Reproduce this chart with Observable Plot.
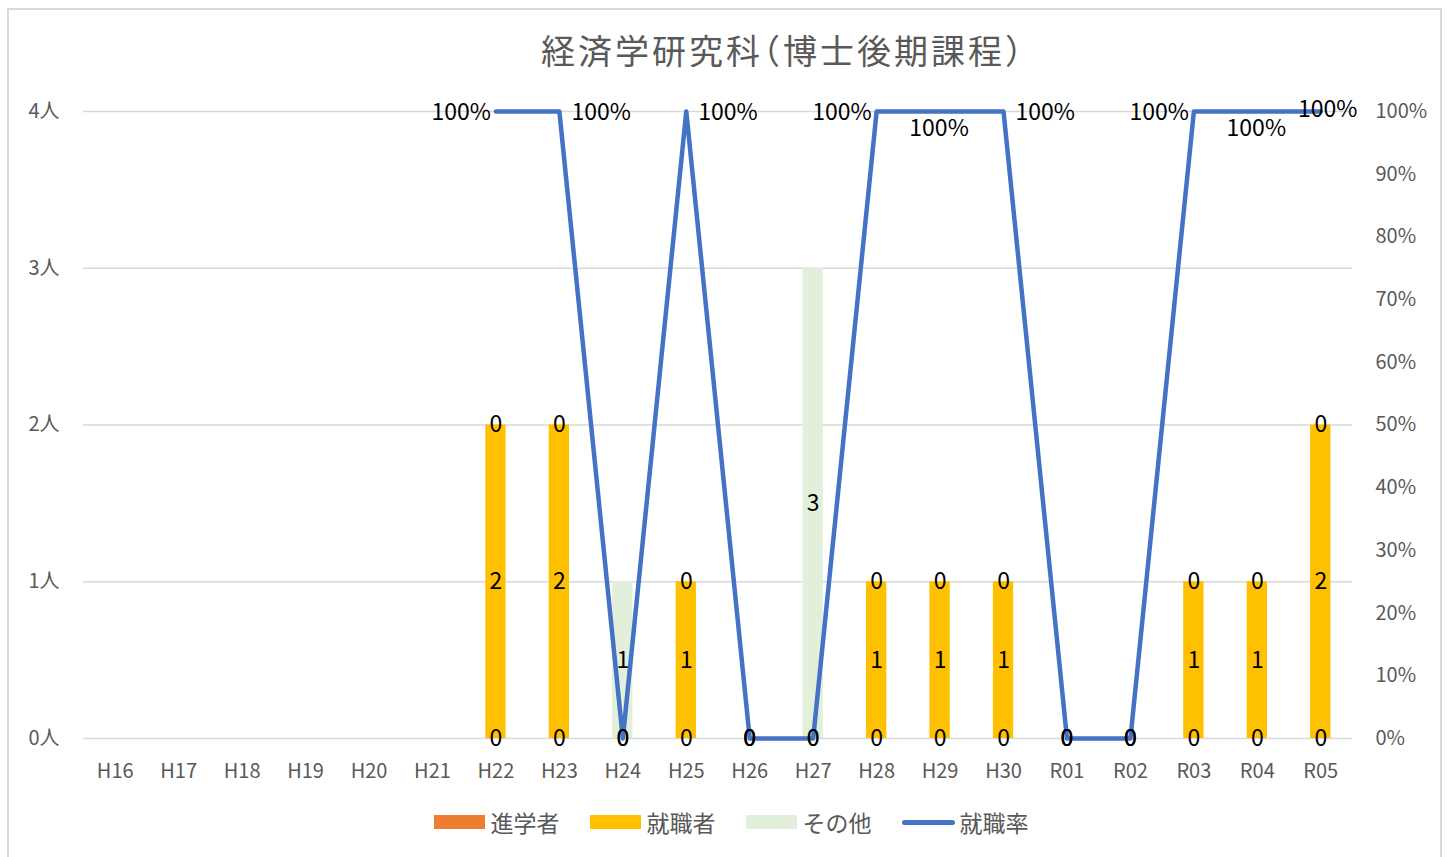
<!DOCTYPE html>
<html>
<head>
<meta charset="utf-8">
<script src="https://cdn.jsdelivr.net/npm/d3@7"></script>
<script src="https://cdn.jsdelivr.net/npm/@observablehq/plot@0.6"></script>
<style>
  html, body { margin: 0; padding: 0; background: #fff; }
  body { width: 1448px; height: 857px; overflow: hidden; position: relative;
         font-family: 'Noto Sans CJK JP', 'Noto Sans', sans-serif; }
  #frame { position: absolute; left: 7px; top: 8px; width: 1435px; height: 900px;
           border: 2px solid #d9d9d9; box-sizing: border-box; pointer-events: none; }
  #title { box-sizing: border-box; height: 88px; padding-top: 33px; padding-left: 118px;
           text-align: center; font-size: 34px; line-height: 34px; letter-spacing: 3px;
           color: #595959; font-feature-settings: "halt"; }
  #chart svg { display: block; }
  #legend { height: 67px; display: flex; justify-content: center; align-items: center;
            padding-left: 14px; padding-bottom: 3px; box-sizing: border-box;
            font-size: 23px; color: #595959; }
  .item { display: flex; align-items: center; margin: 0 15px; }
  .sw { width: 51px; height: 14px; margin-right: 6px; }
  .ln { width: 53px; height: 5px; border-radius: 3px; margin-right: 5px; }
</style>
</head>
<body>
<div id="frame"></div>
<div id="title">経済学研究科（博士後期課程）</div>
<div id="chart"></div>
<div id="legend"></div>
<script>
// ---- data ----
const categories = ["H16","H17","H18","H19","H20","H21","H22","H23","H24","H25","H26","H27","H28","H29","H30","R01","R02","R03","R04","R05"];
const seriesNames = ["進学者","就職者","その他"];
const shingaku = [null,null,null,null,null,null,0,0,0,0,0,0,0,0,0,0,0,0,0,0];
const shushoku = [null,null,null,null,null,null,2,2,0,1,0,0,1,1,1,0,0,1,1,2];
const sonota   = [null,null,null,null,null,null,0,0,1,0,0,3,0,0,0,0,0,0,0,0];
const rate     = [null,null,null,null,null,null,1,1,0,1,0,0,1,1,1,0,0,1,1,1];
const rateName = "就職率";
const leftTicks = [0,1,2,3,4];
const rightTicks = [0,0.1,0.2,0.3,0.4,0.5,0.6,0.7,0.8,0.9,1];

// ---- styling / label placement config ----
const colors = ["#ED7D31","#FFC000","#E2EFDA"];
const lineColor = "#4472C4";
const rateLabelPlacement = {H22:"left",H23:"right",H25:"right",H28:"left",H29:"below",H30:"right",R03:"left",R04:"below",R05:"above"};
const yMax = 4;

// ---- build tables ----
const seriesValues = [shingaku, shushoku, sonota];
const barData = [];
categories.forEach((c, i) => {
  seriesNames.forEach((s, k) => {
    const v = seriesValues[k][i];
    if (v !== null) barData.push({cat: c, series: s, value: v});
  });
});
const rateData = categories.map((c, i) => ({cat: c, rate: rate[i]})).filter(d => d.rate !== null);
const rateLabels = rateData.filter(d => d.rate > 0);
const toLeft = r => r * yMax; // secondary axis mapped onto primary scale

const place = {
  left:  {textAnchor: "end",    dx: -5, dy: 1},
  right: {textAnchor: "start",  dx: 12, dy: 1},
  below: {textAnchor: "middle", dx: -1, dy: 17},
  above: {textAnchor: "middle", dx: 7,  dy: -2}
};
const rateTextMarks = Object.keys(place).map(p =>
  Plot.text(rateLabels.filter(d => rateLabelPlacement[d.cat] === p), {
    x: "cat", y: d => toLeft(d.rate), text: d => Math.round(d.rate * 100) + "%",
    fill: "black", fontSize: 23, ...place[p]
  })
);

const plot = Plot.plot({
  width: 1448,
  height: 702,
  marginLeft: 83,
  marginRight: 96,
  marginTop: 23,
  marginBottom: 52,
  style: {fontFamily: "'Noto Sans CJK JP', 'Noto Sans', sans-serif", fontSize: "20px", color: "#595959", background: "white", overflow: "visible"},
  x: {type: "band", domain: categories, paddingInner: 0.68, paddingOuter: 0.34, round: false, label: null},
  y: {domain: [0, yMax], label: null},
  color: {domain: seriesNames, range: colors},
  marks: [
    Plot.ruleY(leftTicks, {stroke: "#d9d9d9", strokeWidth: 1.5}),
    Plot.barY(barData, {x: "cat", y: "value", fill: "series"}),
    Plot.lineY(rateData, {x: "cat", y: d => toLeft(d.rate), stroke: lineColor, strokeWidth: 4.5}),
    Plot.text(barData, {...Plot.stackY({x: "cat", y: "value", text: d => String(d.value)}), fill: "black", fontSize: 23}),
    ...rateTextMarks,
    Plot.axisY(leftTicks, {anchor: "left", tickSize: 0, tickPadding: 24, tickFormat: d => d + "人", fontSize: 20, label: null}),
    Plot.axisY(rightTicks.map(toLeft), {anchor: "right", tickSize: 0, tickPadding: 23, tickFormat: d => Math.round(d / yMax * 100) + "%", fontSize: 20, label: null}),
    Plot.axisX({tickSize: 0, tickPadding: 25, fontSize: 20, label: null})
  ]
});
document.getElementById("chart").appendChild(plot);

// ---- legend ----
const legend = document.getElementById("legend");
seriesNames.forEach((s, k) => {
  const it = document.createElement("div");
  it.className = "item";
  it.innerHTML = `<span class="sw" style="background:${colors[k]}"></span><span>${s}</span>`;
  legend.appendChild(it);
});
const li = document.createElement("div");
li.className = "item";
li.innerHTML = `<span class="ln" style="background:${lineColor}"></span><span>${rateName}</span>`;
legend.appendChild(li);
</script>
</body>
</html>
